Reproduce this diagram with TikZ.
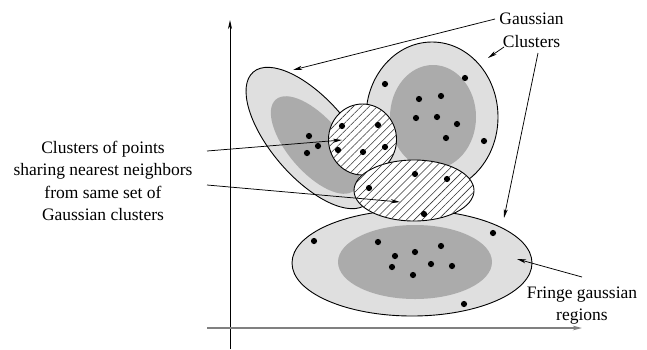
\documentclass[tikz,border=0pt]{standalone}
\usepackage{fontspec}
\setmainfont{Liberation Serif}
\usetikzlibrary{arrows.meta,patterns.meta}
\definecolor{lightg}{gray}{0.875}
\definecolor{darkg}{gray}{0.67}
\definecolor{axisg}{gray}{0.5}
\tikzset{
  outer/.style={fill=lightg,draw=black,line width=0.9pt},
  inner/.style={fill=darkg,draw=none},
  hatch/.style={fill=white,draw=black,line width=0.9pt},
  hatchlines/.style={pattern={Lines[angle=45,distance=5.6pt,line width=0.55pt]},pattern color=black!80},
  dot/.style={fill=black,draw=none},
  pointer/.style={line width=0.75pt,-{Stealth[length=9pt,width=4pt,inset=2.5pt]}},
  lbl/.style={font=\fontsize{17.5}{22.5}\selectfont,align=center,inner sep=0pt}
}
\begin{document}
\begin{tikzpicture}[x=1pt,y=-1pt]
\useasboundingbox (0,0) rectangle (647,349);
% axes
\coordinate (ybot) at (230,349);
\coordinate (ytop) at (230,20);
\coordinate (xl) at (207,328);
\coordinate (xr) at (582,328);
\draw[line width=0.9pt,-{Stealth[length=9pt,width=4pt,inset=2.5pt]}] (ybot) -- (ytop);
% left gaussian cluster
\begin{scope}[shift={(310,138)},rotate=-49.3]
  \path[outer] (0,0) ellipse [x radius=87,y radius=39];
\end{scope}
\begin{scope}[shift={(315,145)},rotate=-49.3]
  \path[inner] (0,0) ellipse [x radius=60,y radius=27];
\end{scope}
% right gaussian cluster
\path[outer] (432,117) ellipse [x radius=66,y radius=75];
\path[inner] (433,117) ellipse [x radius=43,y radius=52];
% bottom gaussian cluster
\path[outer] (412,263) ellipse [x radius=120,y radius=53];
\path[inner] (415,262) ellipse [x radius=77,y radius=37];
% hatched circle
\path[hatch] (362.5,139.5) ellipse [x radius=34,y radius=35.5];
\path[hatchlines] (362.5,139.5) ellipse [x radius=34,y radius=35.5];
% hatched ellipse
\path[hatch] (414,190.5) ellipse [x radius=60,y radius=30.5];
\path[hatchlines] (414,190.5) ellipse [x radius=60,y radius=30.5];
% dots
\foreach \p in {(309,136),(318,146),(307,153),
  (342,126),(378,125),(338,150),(363,152),(385,147),
  (385,84),(465,78),(419,99),(441,96),(416,118),(437,117),(457,124),(446,138),(484,141),
  (415,174),(447,179),(369,188),(424,214),
  (314,241),(378,242),(493,233),(441,246),(395,256),(415,252),(392,267),(431,264),(452,266),(413,275),(464,304)}
  \fill[dot] \p circle (3.1);
% x axis
\draw[axisg,line width=1.6pt,-{Stealth[length=9pt,width=4.5pt,inset=2.5pt]}] (xl) -- (xr);
% labels
\node[lbl] (gauss) at (531.5,30.5) {Gaussian\\Clusters};
\node[lbl] (share) at (103,181) {Clusters of points\\sharing nearest neighbors\\from same set of\\Gaussian clusters};
\node[lbl] (fringe) at (582,305.5) {Fringe gaussian\\regions};
% pointer coordinates
\coordinate (g1s) at (495,19);   \coordinate (g1e) at (293,70);
\coordinate (g2s) at (504,47);   \coordinate (g2e) at (488,58);
\coordinate (g3s) at (538,53);   \coordinate (g3e) at (504,218);
\coordinate (c1s) at (207,151);  \coordinate (c1e) at (342,140);
\coordinate (c2s) at (207,185);  \coordinate (c2e) at (400,202);
\coordinate (fs) at (582,277);   \coordinate (fe) at (517,259);
\draw[pointer] (g1s) -- (g1e);
\draw[pointer] (g2s) -- (g2e);
\draw[pointer] (g3s) -- (g3e);
\draw[pointer] (c1s) -- (c1e);
\draw[pointer] (c2s) -- (c2e);
\draw[pointer] (fs) -- (fe);
\end{tikzpicture}
\end{document}
